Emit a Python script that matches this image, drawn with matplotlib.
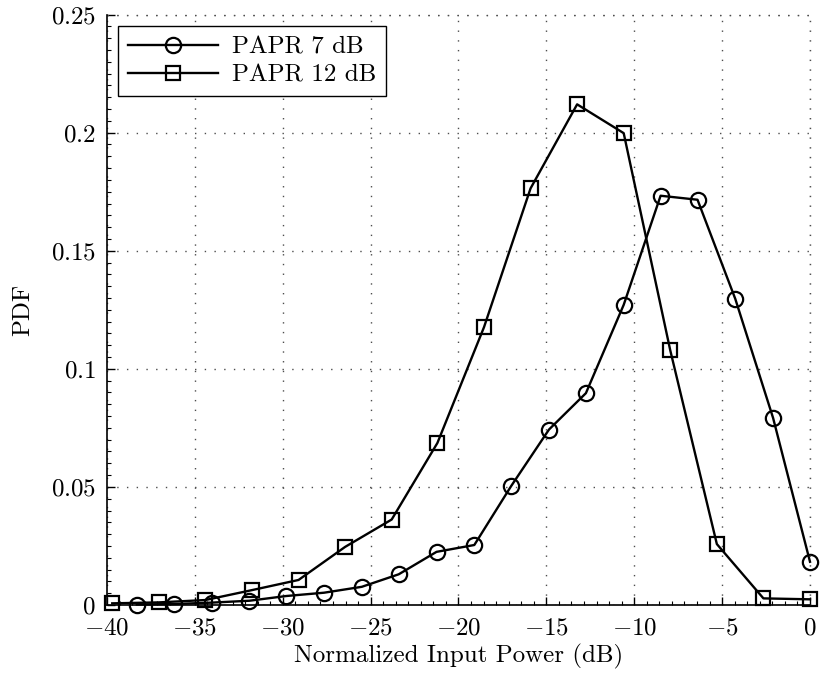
import matplotlib
matplotlib.use("Agg")
import matplotlib.pyplot as plt
from matplotlib.ticker import AutoMinorLocator

# Данные
x_papr7 = [-38.3, -36.2, -34.05, -31.9, -29.8, -27.65, -25.5, -23.4, -21.25, -19.1,
           -17.0, -14.85, -12.75, -10.6, -8.5, -6.4, -4.25, -2.1, 0.0]
pdf_papr7 = [0.0002, 0.0004, 0.0010, 0.0018, 0.0038, 0.0052, 0.0077, 0.0130, 0.0225, 0.0254,
             0.0504, 0.0743, 0.0897, 0.1271, 0.1733, 0.1716, 0.1296, 0.0792, 0.0183]

x_papr12 = [-39.7, -37.05, -34.4, -31.75, -29.1, -26.45, -23.8, -21.2, -18.55, -15.9,
            -13.25, -10.6, -7.95, -5.3, -2.65, 0.0]
pdf_papr12 = [0.0007, 0.0011, 0.0021, 0.0063, 0.0106, 0.0246, 0.0362, 0.0686, 0.1176, 0.1764,
              0.2120, 0.1998, 0.1078, 0.0258, 0.0028, 0.0024]

x_ticks = [-40, -35, -30, -25, -20, -15, -10, -5, 0]
y_ticks = [0, 0.05, 0.1, 0.15, 0.2, 0.25]
y_tick_labels = ['0', '0.05', '0.1', '0.15', '0.2', '0.25']

plt.rcParams['font.family'] = 'cmr10'
plt.rcParams['mathtext.fontset'] = 'cm'
plt.rcParams['axes.unicode_minus'] = False

fs = 18
dots = (0, (1, 6))
fig = plt.figure(figsize=(8.21, 6.79), dpi=100)
ax = fig.add_axes([0.1303, 0.109, 0.8563, 0.8695])

ax.plot(x_papr7, pdf_papr7, color='black', lw=1.7, marker='o', markersize=11,
        markerfacecolor='none', markeredgewidth=1.6, label='PAPR 7 dB', clip_on=False)
ax.plot(x_papr12, pdf_papr12, color='black', lw=1.7, marker='s', markersize=9.5,
        markerfacecolor='none', markeredgewidth=1.6, label='PAPR 12 dB', clip_on=False)

ax.set_xlim(-40, 0)
ax.set_ylim(0, 0.25)
ax.set_xticks(x_ticks)
ax.set_xticklabels([r'$%d$' % v for v in x_ticks], fontsize=fs)
ax.set_yticks(y_ticks)
ax.set_yticklabels([r'$%s$' % s for s in y_tick_labels], fontsize=fs)
ax.xaxis.set_minor_locator(AutoMinorLocator(7))
ax.yaxis.set_minor_locator(AutoMinorLocator(10))
ax.tick_params(which='both', direction='in', top=False, right=False)
ax.tick_params(which='major', length=6, width=1)
ax.tick_params(which='minor', length=3, width=0.8)
ax.tick_params(axis='x', pad=9)
ax.tick_params(axis='y', pad=8)

ax.spines['top'].set_visible(False)
ax.spines['right'].set_visible(False)
ax.spines['left'].set_linewidth(1.2)
ax.spines['bottom'].set_linewidth(1.2)

ax.grid(True, which='major', linestyle=dots, color='0.3', linewidth=1.0)
# верхняя и правая границы — пунктиром, как сетка
ax.axhline(0.25, linestyle=dots, color='0.3', linewidth=1.0, clip_on=False)
ax.axvline(0, linestyle=dots, color='0.3', linewidth=1.0, clip_on=False)

ax.set_xlabel('Normalized Input Power (dB)', fontsize=fs, labelpad=3)
ax.set_ylabel('PDF', fontsize=fs, labelpad=12)

leg = ax.legend(loc='upper left', bbox_to_anchor=(0.016, 0.98), fontsize=fs,
                fancybox=False, framealpha=1, edgecolor='black', handlelength=3.6,
                borderpad=0.4, labelspacing=0.2, handletextpad=0.55, borderaxespad=0)
leg.get_frame().set_linewidth(1.0)

fig.savefig('out.png', dpi=100)
